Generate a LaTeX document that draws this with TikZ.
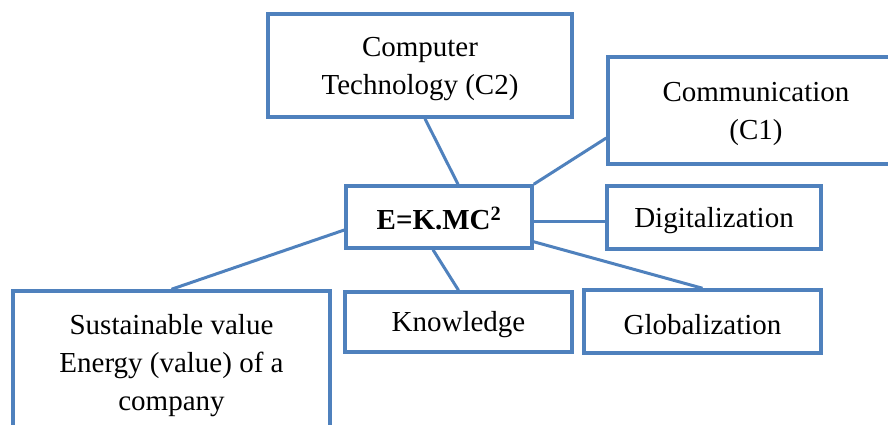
\documentclass[tikz,border=0pt]{standalone}
\usepackage{fontspec}
\setmainfont{Liberation Serif}
\usetikzlibrary{calc}
\definecolor{boxblue}{RGB}{79,129,189}
\newcommand\topstrut{\rule{0pt}{26pt}}
\begin{document}
\begin{tikzpicture}[x=1pt,y=-1pt,
  box/.style={draw=boxblue, line width=3.5pt, fill=white, align=center,
    inner sep=2pt, font=\fontsize{29}{38}\selectfont},
  link/.style={draw=boxblue, line width=3pt}]
\useasboundingbox (0,0) rectangle (888,424);
\clip (0,0) rectangle (888,424);
\node[box, minimum width=304, minimum height=103] (c2) at (420,65.5) {\topstrut Computer\\Technology (C2)};
\node[box, minimum width=296, minimum height=107] (c1) at (756,110.5) {\topstrut Communication\\(C1)};
\node[box, minimum width=186, minimum height=62] (e) at (439,217) {\topstrut\bfseries E=K.MC\textsuperscript{2}};
\node[box, minimum width=214, minimum height=63] (dig) at (714,217.5) {\topstrut Digitalization};
\node[box, minimum width=317, minimum height=144] (sus) at (171.5,363) {\topstrut Sustainable value\\Energy (value) of a\\company};
\node[box, minimum width=227, minimum height=60] (know) at (458.5,322) {\topstrut Knowledge};
\node[box, minimum width=237, minimum height=63] (glob) at (702.5,321.5) {\topstrut Globalization};
\draw[link] ($(c2.south)+(5,0)$) -- ($(e.north)+(19,0)$);
\draw[link] (e.north east) -- ($(c1.west)+(0,27.5)$);
\draw[link] ($(e.east)+(0,4)$) -- ($(e.east -| dig.west)+(0,4)$);
\draw[link] ($(e.west)+(0,13)$) -- (sus.north);
\draw[link] ($(e.south)+(-6,0)$) -- (know.north);
\draw[link] ($(e.south east)+(0,-8)$) -- (glob.north);
\end{tikzpicture}
\end{document}
